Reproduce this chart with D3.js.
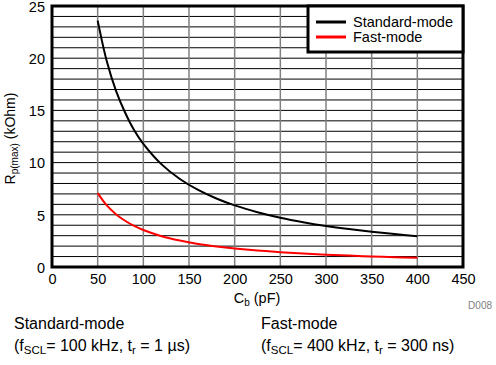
<!DOCTYPE html>
<html>
<head>
<meta charset="utf-8">
<script src="https://cdn.jsdelivr.net/npm/d3@7"></script>
<style>
  body { margin: 0; background: #fff; }
  text { font-family: "Liberation Sans", Arial, sans-serif; }
</style>
</head>
<body>
<svg id="chart" width="496" height="365"></svg>
<script>
// values
let capacitance = [50, 60, 70, 80, 90, 100, 120, 140, 160, 180, 200, 225, 250, 275, 300, 325, 350, 375, 400];
let standardMode = [23.6, 19.7, 16.9, 14.8, 13.1, 11.8, 9.83, 8.43, 7.38, 6.56, 5.9, 5.25, 4.72, 4.29, 3.93, 3.63, 3.37, 3.15, 2.95];
let fastMode = [7.08, 5.9, 5.06, 4.43, 3.93, 3.54, 2.95, 2.53, 2.21, 1.97, 1.77, 1.57, 1.42, 1.29, 1.18, 1.09, 1.01, 0.94, 0.88];
let xTicks = [0, 50, 100, 150, 200, 250, 300, 350, 400, 450];
let yTicks = [0, 5, 10, 15, 20, 25];
let yGrid = d3.range(0, 26, 1);
let seriesNames = ["Standard-mode", "Fast-mode"];
let seriesColors = ["#000000", "#ff0000"];

let svg = d3.select("#chart");
let pLeft = 52, pRight = 463, pTop = 6, pBottom = 267;

let xScale = d3.scaleLinear().domain([0, 450]).range([pLeft, pRight]);
let yScale = d3.scaleLinear().domain([0, 25]).range([pBottom, pTop]);

// horizontal grid (black)
svg.selectAll(".hgrid")
  .data(yGrid)
  .enter()
  .append("line")
    .attr("x1", pLeft).attr("x2", pRight)
    .attr("y1", d => yScale(d)).attr("y2", d => yScale(d))
    .style("stroke", "#000")
    .style("stroke-width", 1);

// vertical grid (gray)
svg.selectAll(".vgrid")
  .data(xTicks.slice(1, -1))
  .enter()
  .append("line")
    .attr("x1", d => xScale(d)).attr("x2", d => xScale(d))
    .attr("y1", pTop).attr("y2", pBottom)
    .style("stroke", "#808080")
    .style("stroke-width", 1.5);

// curves
let series = [standardMode, fastMode];
let line = d3.line()
  .x((d, i) => xScale(capacitance[i]))
  .y(d => yScale(d))
  .curve(d3.curveCatmullRom);

svg.selectAll(".curve")
  .data(series)
  .enter()
  .append("path")
    .attr("d", d => line(d))
    .style("fill", "none")
    .style("stroke", (d, i) => seriesColors[i])
    .style("stroke-width", 2);

// frame
svg.append("rect")
  .attr("x", pLeft).attr("y", pTop)
  .attr("width", pRight - pLeft).attr("height", pBottom - pTop)
  .style("fill", "none")
  .style("stroke", "#000")
  .style("stroke-width", 3);

// axes (labels only)
let xAxis = svg.append("g")
  .attr("transform", "translate(0," + pBottom + ")")
  .call(d3.axisBottom(xScale).tickValues(xTicks).tickSize(0).tickPadding(7));
let yAxis = svg.append("g")
  .attr("transform", "translate(" + pLeft + ",0)")
  .call(d3.axisLeft(yScale).tickValues(yTicks).tickSize(0).tickPadding(7));
[xAxis, yAxis].forEach(function(a) {
  a.select(".domain").remove();
  a.selectAll("text")
    .style("font-family", "'Liberation Sans', Arial, sans-serif")
    .style("font-size", "14.5px")
    .style("fill", "#000");
});
// keep the top label inside the page
yAxis.selectAll("text").attr("dy", "0.36em");

// axis titles
let xTitle = svg.append("text")
  .attr("x", 257).attr("y", 303)
  .style("font-size", "14.5px")
  .style("text-anchor", "middle");
xTitle.append("tspan").text("C");
xTitle.append("tspan").attr("dy", 3).style("font-size", "10px").text("b");
xTitle.append("tspan").attr("dy", -3).text(" (pF)");

let yTitle = svg.append("text")
  .attr("transform", "translate(15," + ((pTop + pBottom) / 2 + 2) + ") rotate(-90)")
  .style("font-size", "14px")
  .style("text-anchor", "middle");
yTitle.append("tspan").text("R");
yTitle.append("tspan").attr("dy", 3).style("font-size", "10px").text("p(max)");
yTitle.append("tspan").attr("dy", -3).text(" (kOhm)");

// legend
svg.append("rect")
  .attr("x", 308).attr("y", pTop)
  .attr("width", pRight - 308).attr("height", 46)
  .style("fill", "#fff")
  .style("stroke", "#000")
  .style("stroke-width", 3);
svg.selectAll(".legLine")
  .data(seriesNames)
  .enter()
  .append("line")
    .attr("x1", 316).attr("x2", 346)
    .attr("y1", (d, i) => 22 + i * 15).attr("y2", (d, i) => 22 + i * 15)
    .style("stroke", (d, i) => seriesColors[i])
    .style("stroke-width", 3);
svg.selectAll(".legText")
  .data(seriesNames)
  .enter()
  .append("text")
    .attr("x", 353)
    .attr("y", (d, i) => 27 + i * 15)
    .text(d => d)
    .style("font-size", "14.5px");

// figure id
svg.append("text")
  .attr("x", 492).attr("y", 308.5)
  .style("text-anchor", "end")
  .style("font-size", "10px")
  .style("fill", "#808080")
  .text("D008");

// notes below the chart
let notes = [
  {x: 14, title: "Standard-mode", f: "100 kHz", t: "1 µs"},
  {x: 261, title: "Fast-mode", f: "400 kHz", t: "300 ns"}
];
notes.forEach(function(n) {
  svg.append("text")
    .attr("x", n.x).attr("y", 328.5)
    .style("font-size", "16px")
    .text(n.title);
  let t = svg.append("text")
    .attr("x", n.x).attr("y", 350.5)
    .style("font-size", "16px");
  t.append("tspan").text("(f");
  t.append("tspan").attr("dy", 3).style("font-size", "11.5px").text("SCL");
  t.append("tspan").attr("dy", -3).text("= " + n.f + ", t");
  t.append("tspan").attr("dy", 3).style("font-size", "11.5px").text("r");
  t.append("tspan").attr("dy", -3).text(" = " + n.t + ")");
});
</script>
</body>
</html>
